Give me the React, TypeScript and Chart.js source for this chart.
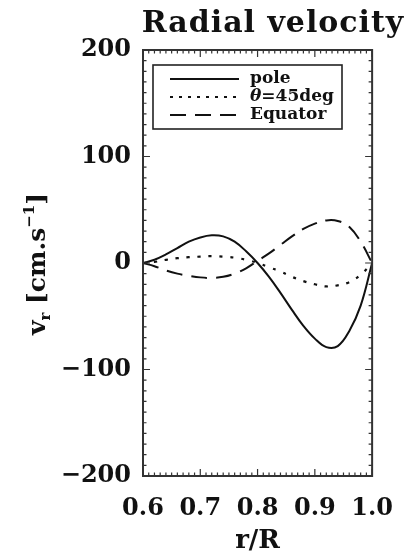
import React, { useEffect, useRef } from "react";
import { Chart, registerables } from "chart.js";

Chart.register(...registerables);

const radius = [0.6, 0.62, 0.64, 0.66, 0.68, 0.7, 0.72, 0.74, 0.76, 0.78, 0.8, 0.82, 0.84, 0.86, 0.88, 0.9, 0.92, 0.94, 0.96, 0.98, 1.0];
const pole = [0, 3, 8, 14, 20, 24, 26, 25, 20, 11, 0, -13, -28, -44, -59, -71, -79, -78, -64, -40, 0];
const theta45 = [0, 1, 3, 4.5, 5.5, 6, 6.5, 6, 5, 3, 0, -4, -8, -13, -17, -20, -22, -21, -18, -11, 0];
const equator = [0, -3, -7, -10, -12, -13.5, -14, -13, -10, -5, 2, 9, 17, 25, 32, 37, 40, 39.5, 34, 20, 0];

const xTicks = [0.6, 0.7, 0.8, 0.9, 1.0];
const yTicks = [-200, -100, 0, 100, 200];
const legendLabels = ["pole", "=45deg", "Equator"];

const FONT = "'DejaVu Serif', serif";
const INK = "#111";

const toPoints = (ys: number[]) => radius.map((r, i) => ({ x: r, y: ys[i] }));

const decorPlugin = {
  id: "decor",
  afterDatasetsDraw(chart: any) {
    const ctx = chart.ctx as CanvasRenderingContext2D;
    const { left, right, top, bottom } = chart.chartArea;
    const xs = chart.scales.x;
    const ys = chart.scales.y;
    ctx.save();
    // box
    ctx.strokeStyle = "#333";
    ctx.lineWidth = 2;
    ctx.strokeRect(left, top, right - left, bottom - top);
    // ticks
    ctx.lineWidth = 1.2;
    ctx.beginPath();
    for (let k = 0; k <= 40; k++) {
      const v = xTicks[0] + k * 0.01;
      const px = xs.getPixelForValue(v);
      const len = k % 10 === 0 ? 7 : 3.5;
      ctx.moveTo(px, bottom);
      ctx.lineTo(px, bottom - len);
      ctx.moveTo(px, top);
      ctx.lineTo(px, top + len);
    }
    for (let k = 0; k <= 40; k++) {
      const v = yTicks[0] + k * 10;
      const py = ys.getPixelForValue(v);
      const len = k % 10 === 0 ? 7 : 3.5;
      ctx.moveTo(left, py);
      ctx.lineTo(left + len, py);
      ctx.moveTo(right, py);
      ctx.lineTo(right - len, py);
    }
    ctx.stroke();

    // legend
    const lx0 = left + 10;
    const ly0 = top + 15;
    ctx.lineWidth = 1.6;
    ctx.strokeStyle = "#222";
    ctx.strokeRect(lx0, ly0, 189, 64);
    const rows = [ly0 + 14, ly0 + 32, ly0 + 50];
    const dashes = [[], [3, 6], [16, 9]];
    rows.forEach((ry, i) => {
      ctx.beginPath();
      ctx.setLineDash(dashes[i]);
      ctx.lineWidth = 2;
      ctx.strokeStyle = INK;
      ctx.moveTo(lx0 + 17, ry);
      ctx.lineTo(lx0 + 86, ry);
      ctx.stroke();
      ctx.setLineDash([]);
      ctx.fillStyle = INK;
      ctx.textBaseline = "middle";
      ctx.textAlign = "left";
      let tx = lx0 + 97;
      if (i === 1) {
        ctx.font = `italic bold 17px ${FONT}`;
        ctx.fillText("\u03b8", tx, ry);
        tx += ctx.measureText("\u03b8").width;
      }
      ctx.font = `bold 17px ${FONT}`;
      ctx.fillText(legendLabels[i], tx, ry);
    });

    // title
    ctx.fillStyle = INK;
    ctx.textAlign = "center";
    ctx.textBaseline = "alphabetic";
    (ctx as any).letterSpacing = "1px";
    ctx.font = `bold 30px ${FONT}`;
    ctx.fillText("Radial velocity", 273, 32);
    (ctx as any).letterSpacing = "0px";

    // x title
    ctx.font = `bold 26px ${FONT}`;
    ctx.fillText("r/R", (left + right) / 2, 548);

    // y title with sub/superscript
    ctx.save();
    ctx.translate(45, 264);
    ctx.rotate(-Math.PI / 2);
    const parts = [
      { t: "v", f: `bold 25px ${FONT}`, dy: 0 },
      { t: "r", f: `bold 15px ${FONT}`, dy: 5 },
      { t: " [cm.s", f: `bold 25px ${FONT}`, dy: 0 },
      { t: "\u22121", f: `bold 15px ${FONT}`, dy: -11 },
      { t: "]", f: `bold 25px ${FONT}`, dy: 0 },
    ];
    let total = 0;
    parts.forEach((p) => {
      ctx.font = p.f;
      total += ctx.measureText(p.t).width;
    });
    let cx = -total / 2;
    ctx.textAlign = "left";
    ctx.textBaseline = "alphabetic";
    parts.forEach((p) => {
      ctx.font = p.f;
      ctx.fillText(p.t, cx, p.dy);
      cx += ctx.measureText(p.t).width;
    });
    ctx.restore();

    ctx.restore();
  },
};

export default function App() {
  const ref = useRef<HTMLCanvasElement | null>(null);
  useEffect(() => {
    if (!ref.current) return;
    const common = { borderColor: INK, borderWidth: 2, pointRadius: 0, tension: 0.4, fill: false };
    const chart = new Chart(ref.current, {
      type: "line",
      data: {
        datasets: [
          { label: "pole", data: toPoints(pole), ...common },
          { label: "θ=45deg", data: toPoints(theta45), ...common, borderDash: [3, 8], borderWidth: 2.2 },
          { label: "Equator", data: toPoints(equator), ...common, borderDash: [16, 9] },
        ],
      },
      options: {
        responsive: false,
        animation: false,
        devicePixelRatio: 1,
        layout: { padding: { top: 50, right: 24, left: 0, bottom: 0 } },
        plugins: { legend: { display: false }, title: { display: false }, tooltip: { enabled: false } },
        scales: {
          x: {
            type: "linear",
            min: 0.6,
            max: 1.0,
            grid: { display: false, drawTicks: false },
            border: { display: false },
            afterBuildTicks: (s: any) => {
              s.ticks = xTicks.map((v) => ({ value: v }));
            },
            afterFit: (s: any) => {
              s.height = 79;
            },
            ticks: {
              callback: (v: any) => Number(v).toFixed(1),
              font: { family: FONT, size: 24, weight: "bold" },
              color: INK,
              padding: 18,
              maxRotation: 0,
            },
          },
          y: {
            type: "linear",
            min: -200,
            max: 200,
            grid: { display: false, drawTicks: false },
            border: { display: false },
            afterBuildTicks: (s: any) => {
              s.ticks = yTicks.map((v) => ({ value: v }));
            },
            afterFit: (s: any) => {
              s.width = 143;
            },
            ticks: {
              callback: (v: any) => (Number(v) < 0 ? "\u2212" + Math.abs(Number(v)) : String(v)),
              font: { family: FONT, size: 24, weight: "bold" },
              color: INK,
              padding: 12,
            },
          },
        },
      },
      plugins: [decorPlugin],
    } as any);
    return () => chart.destroy();
  }, []);
  return (
    <div style={{ position: "absolute", left: 0, top: 0, width: 411, height: 555, background: "#fff" }}>
      <canvas ref={ref} width={411} height={555} />
    </div>
  );
}
